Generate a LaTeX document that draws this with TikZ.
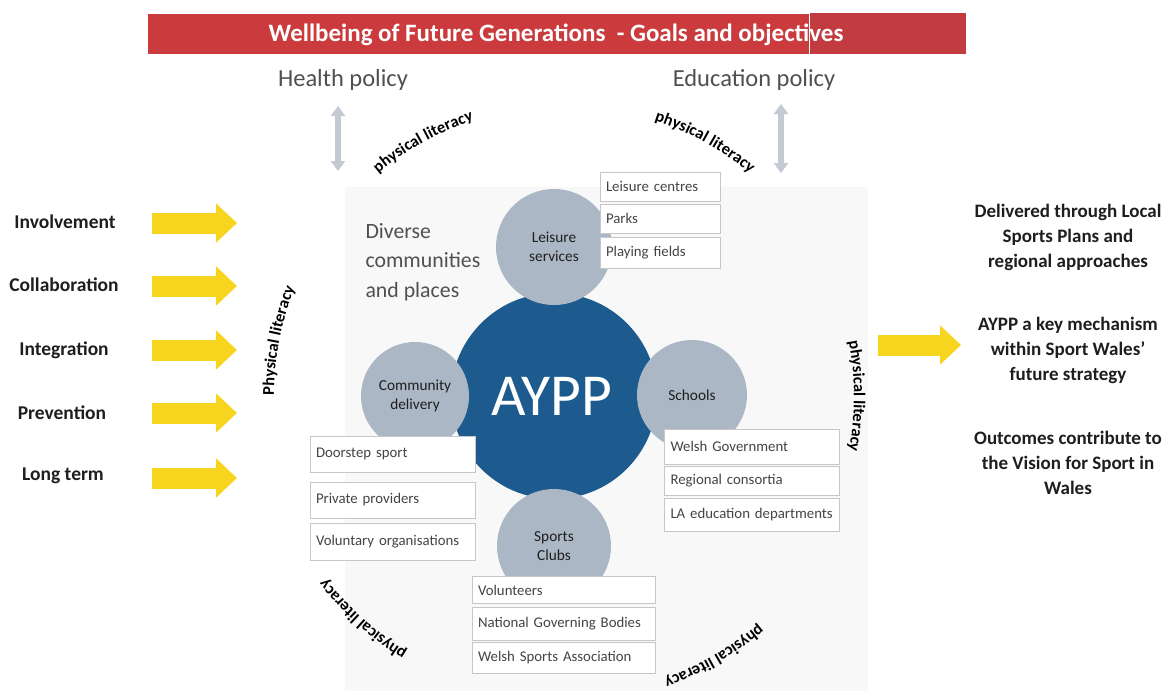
\documentclass[tikz,border=0pt]{standalone}
\usepackage{fontspec}
\setmainfont{Carlito}
\usetikzlibrary{arrows.meta,decorations.text}
\definecolor{bannerred}{HTML}{CB3A3C}
\definecolor{bannerredb}{HTML}{C23B40}
\definecolor{ayppblue}{HTML}{1D5B8E}
\definecolor{satgray}{HTML}{ABB7C5}
\definecolor{arrowyellow}{HTML}{F7D51E}
\definecolor{polgray}{HTML}{C3CAD3}
\definecolor{txtdark}{HTML}{1E1E1E}
\definecolor{txtgray}{HTML}{505050}
\definecolor{boxtext}{HTML}{444444}
\definecolor{faintbg}{HTML}{F8F8F8}
\tikzset{
  goal/.style={font=\fontsize{19.5}{22}\selectfont\bfseries, text=txtdark},
  outcome/.style={font=\fontsize{19}{25}\selectfont\bfseries, text=txtdark, align=center},
  policy/.style={font=\fontsize{24.5}{28}\selectfont, text=txtgray},
  satellite/.style={circle, fill=satgray, inner sep=0pt, align=center,
    font=\fontsize{15.3}{19}\selectfont, text=txtdark},
  itembox/.style={draw=black!22, fill=white, rectangle, inner xsep=6pt, inner ysep=0pt,
    align=left, font=\fontsize{14.8}{17}\selectfont, text=boxtext},
  yarrow/.style={draw=arrowyellow, line width=21pt, -{Triangle[width=38pt,length=21pt]}},
  polarrow/.style={draw=polgray, line width=6pt,
    {Triangle[width=14pt,length=10pt]}-{Triangle[width=14pt,length=10pt]}},
  arclabel/.style={decorate, decoration={text along path, text align=center,
    text={|\fontsize{16.5}{16.5}\selectfont\bfseries|#1}}}
}
\begin{document}
\begin{tikzpicture}[x=1pt,y=-1pt]
\useasboundingbox (0,0) rectangle (1169,691);
\fill[white] (0,0) rectangle (1169,691);
\fill[faintbg] (345,187) rectangle (868,691);

% banner
\fill[bannerred] (148,14) rectangle (809,54);
\fill[bannerredb] (809,13) rectangle (966,54);
\draw[white, line width=0.8pt] (809,13) -- (809,54);
\node[font=\fontsize{25}{28}\selectfont\bfseries, text=white] (banner) at (556,35)
  {Wellbeing of Future Generations~ - Goals and objectives};

% policies
\node[policy] (health) at (343,80) {Health policy};
\node[policy] (education) at (754,80) {Education policy};
\coordinate (h1) at (338,106); \coordinate (h2) at (338,171);
\coordinate (e1) at (781,104); \coordinate (e2) at (781,173);
\draw[polarrow] (h1) -- (h2);
\draw[polarrow] (e1) -- (e2);

% physical literacy labels around the circle
\coordinate (c) at (564,396);
\path[arclabel={physical literacy}] ([shift={(-143:290)}]c) arc[start angle=-143, end angle=-95, radius=290];
\path[arclabel={physical literacy}] ([shift={(-85:290)}]c) arc[start angle=-85, end angle=-37, radius=290];
\path[arclabel={Physical literacy}] ([shift={(-193:290)}]c) arc[start angle=-193, end angle=-145, radius=290];
\path[arclabel={physical literacy}] ([shift={(-24:290)}]c) arc[start angle=-24, end angle=24, radius=290];
\path[arclabel={physical literacy}] ([shift={(108:300)}]c) arc[start angle=108, end angle=156, radius=300];
\path[arclabel={physical literacy}] ([shift={(36:300)}]c) arc[start angle=36, end angle=84, radius=300];

% goals
\node[goal] (g1) at (65,222) {Involvement};
\node[goal] (g2) at (64,285) {Collaboration};
\node[goal] (g3) at (64,350) {Integration};
\node[goal] (g4) at (62,413) {Prevention};
\node[goal] (g5) at (63,476) {Long term};
\foreach \i/\y in {1/223,2/286,3/350,4/413,5/478}{
  \coordinate (ya\i) at (152,\y);
  \coordinate (yb\i) at (237,\y);
  \draw[yarrow] (ya\i) -- (yb\i);
}

% right side
\coordinate (ra) at (878,345);
\coordinate (rb) at (961,345);
\draw[yarrow] (ra) -- (rb);
\node[outcome] (o1) at (1068,237) {Delivered through Local\\Sports Plans and\\regional approaches};
\node[outcome] (o2) at (1068,350) {AYPP a key mechanism\\within Sport Wales'\\future strategy};
\node[outcome] (o3) at (1068,463) {Outcomes contribute to\\the Vision for Sport in\\Wales};

% diverse
\node[anchor=west, align=left, font=\fontsize{21.8}{29.5}\selectfont, text=txtgray] (diverse)
  at (362,262) {Diverse\\communities\\and places};

% central circles
\node[circle, fill=ayppblue, minimum size=206pt, inner sep=0pt] (aypp) at (554,396) {};
\node[satellite, minimum size=116pt] (leisure) at (554,247) {Leisure\\services};
\node[satellite, minimum size=108pt] (community) at (415,396) {Community\\delivery};
\node[satellite, minimum size=110pt] (schools) at (692,395) {Schools};
\node[satellite, minimum size=114pt] (clubs) at (554,546) {Sports\\Clubs};
\node[text=white, font=\fontsize{59.5}{62}\selectfont] (ayppt) at (552,396) {AYPP};

% leisure boxes
\node[itembox, text width=108pt, minimum height=29pt] (lc) at (660,186.5) {Leisure centres};
\node[itembox, text width=108pt, minimum height=29pt] (pk) at (660,218.5) {Parks};
\node[itembox, text width=108pt, minimum height=31pt] (pf) at (660,252.5) {Playing fields};

% community boxes
\node[itembox, text width=153pt, minimum height=36pt] (ds) at (392.5,454) {Doorstep sport};
\node[itembox, text width=153pt, minimum height=36pt] (pp) at (392.5,500) {Private providers};
\node[itembox, text width=153pt, minimum height=37pt] (vo) at (392.5,541.5) {Voluntary organisations};

% schools boxes
\node[itembox, text width=163pt, minimum height=35pt] (wg) at (752,446.5) {Welsh Government};
\node[itembox, text width=163pt, minimum height=29pt] (rc) at (752,480.5) {Regional consortia};
\node[itembox, text width=163pt, minimum height=33pt] (la) at (752,514.5) {LA education departments};

% clubs boxes
\node[itembox, text width=171pt, minimum height=27pt] (vl) at (563.5,590) {Volunteers};
\node[itembox, text width=171pt, minimum height=33pt] (ngb) at (563.5,623.5) {National Governing Bodies};
\node[itembox, text width=171pt, minimum height=31pt] (wsa) at (563.5,657.5) {Welsh Sports Association};
\end{tikzpicture}
\end{document}
